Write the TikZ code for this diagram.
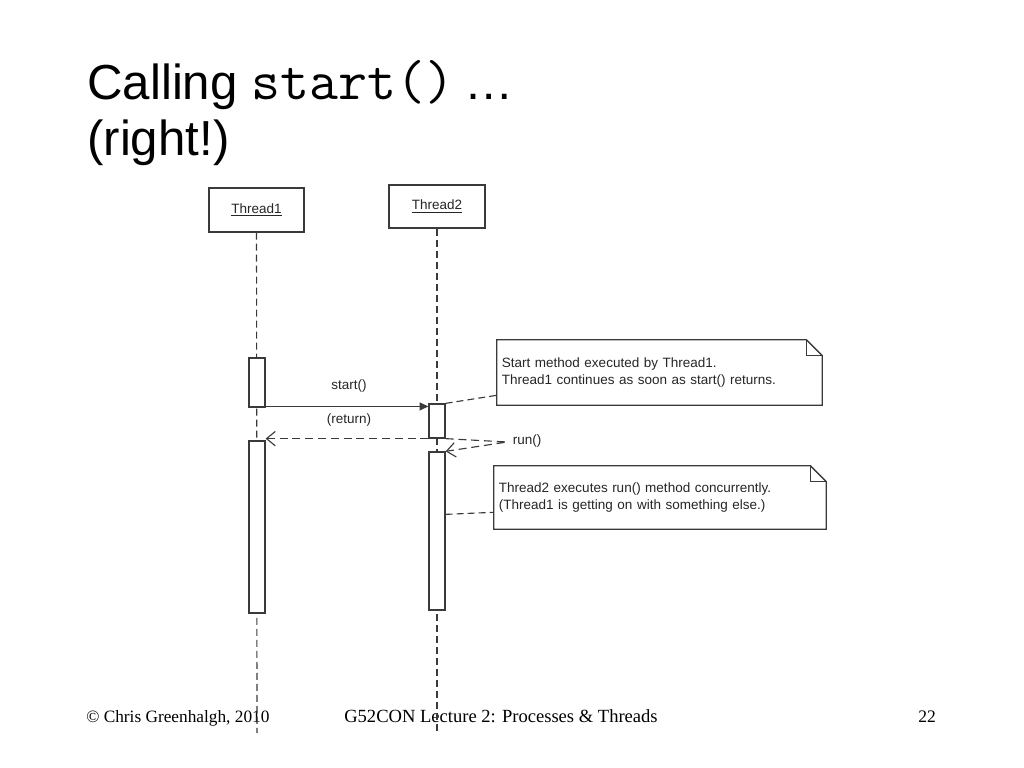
\documentclass[tikz,border=0pt]{standalone}
\usepackage{fontspec}
\setmainfont{Liberation Sans}
\newfontfamily\footfont{Liberation Serif}
\usepackage{tikz}
\usetikzlibrary{arrows,arrows.meta}
\definecolor{ln}{HTML}{3A3A3A}

\begin{document}
\begin{tikzpicture}[x=0.025cm,y=-0.025cm,
	lifeline/.style={draw=ln,line width=0.8pt,dash pattern=on 0.175cm off 0.1cm},
	objbox/.style={draw=ln,line width=0.9pt,fill=white,inner sep=0pt},
	actbox/.style={draw=ln,line width=0.9pt,fill=white,minimum width=0.4cm,inner sep=0pt},
	notebox/.style={draw=ln,line width=0.9pt},
	msg/.style={draw=ln,line width=0.8pt},
	dia/.style={text=black!85,font=\fontsize{9.6}{12}\selectfont}]
	\useasboundingbox (0,0) rectangle (1024,768);
	
	%title and footer
	\node (title) [anchor=base west,inner sep=0pt] at (87,100) {\fontsize{35}{40}\selectfont Calling {\ttfamily\fontsize{40}{40}\selectfont start()}\hspace{0.2em}…};
	\node (subtitle) [anchor=base west,inner sep=0pt] at (87,155) {\fontsize{35}{40}\selectfont (right!)};
	\node (copy) [anchor=base west,inner sep=0pt] at (86,722) {\footfont\fontsize{12.3}{15}\selectfont © Chris Greenhalgh, 2010};
	\node (lecture) [anchor=base west,inner sep=0pt] at (344,722) {\footfont\fontsize{13.2}{15}\selectfont G52CON Lecture 2: Processes \& Threads};
	\node (page) [anchor=base west,inner sep=0pt] at (918,722) {\footfont\fontsize{12.5}{15}\selectfont 22};
	
	%objects and lifelines
	\node (t1) [objbox,dia,minimum width=2.375cm,minimum height=1.1cm] at (256.5,210) {\underline{Thread1}};
	\node (t2) [objbox,dia,minimum width=2.4cm,minimum height=1.075cm] at (437,206.5) {\underline{Thread2}};
	\coordinate (t1end) at (257,733);
	\coordinate (t2end) at (437,733);
	\draw[lifeline] (t1) -- (t1end);
	\draw[lifeline] (t2) -- (t2end);
	
	%activations
	\node (a1) [actbox,minimum height=1.225cm] at (257,382.5) {};
	\node (a2) [actbox,minimum height=4.3cm] at (257,527) {};
	\node (b1) [actbox,minimum height=0.85cm] at (437,421) {};
	\node (b2) [actbox,minimum height=3.95cm] at (437,531) {};
	
	%messages
	\draw[msg,arrows={-Triangle[length=0.22cm,width=0.2cm]}] ([yshift=0.03cm]a1.south east) -- ([yshift=0.03cm]a1.south east -| b1.west);
	\node (lblstart) [dia] at (349,386) {start()};
	\draw[msg,dash pattern=on 0.2cm off 0.12cm,arrows={-Straight Barb[length=0.22cm,width=0.36cm]}] (b1.south west) -- (b1.south west -| a2.east);
	\node (lblreturn) [dia] at (349,420) {(return)};
	\coordinate (runpt) at (507,442);
	\draw[msg,dash pattern=on 0.2cm off 0.12cm,arrows={-Straight Barb[length=0.22cm,width=0.36cm]}] (b1.south east) -- (runpt) -- (b2.north east);
	\node (lblrun) [dia] at (527,441) {run()};
	
	%notes
	\node (n1) [dia,minimum width=8.125cm,minimum height=1.625cm,text width=7.875cm,inner xsep=0.125cm,align=left] at (659.5,372.5) {Start method executed by Thread1.\\Thread1 continues as soon as start() returns.};
	\draw[notebox] (n1.south west) -- (n1.north west) -- ([xshift=-0.4cm]n1.north east) -- ([yshift=-0.4cm]n1.north east) -- (n1.south east) -- cycle;
	\draw[notebox] ([xshift=-0.4cm]n1.north east) -- ([xshift=-0.4cm,yshift=-0.4cm]n1.north east) -- ([yshift=-0.4cm]n1.north east);
	\draw[lifeline] (b1.north east) -- ([yshift=0.25cm]n1.south west);
	
	\node (n2) [dia,minimum width=8.3cm,minimum height=1.575cm,text width=8.05cm,inner xsep=0.125cm,align=left] at (660,497.5) {Thread2 executes run() method concurrently.\\(Thread1 is getting on with something else.)};
	\draw[notebox] (n2.south west) -- (n2.north west) -- ([xshift=-0.4cm]n2.north east) -- ([yshift=-0.4cm]n2.north east) -- (n2.south east) -- cycle;
	\draw[notebox] ([xshift=-0.4cm]n2.north east) -- ([xshift=-0.4cm,yshift=-0.4cm]n2.north east) -- ([yshift=-0.4cm]n2.north east);
	\draw[lifeline] ([yshift=-1.575cm]b2.north east) -- ([yshift=0.425cm]n2.south west);
\end{tikzpicture}
\end{document}
